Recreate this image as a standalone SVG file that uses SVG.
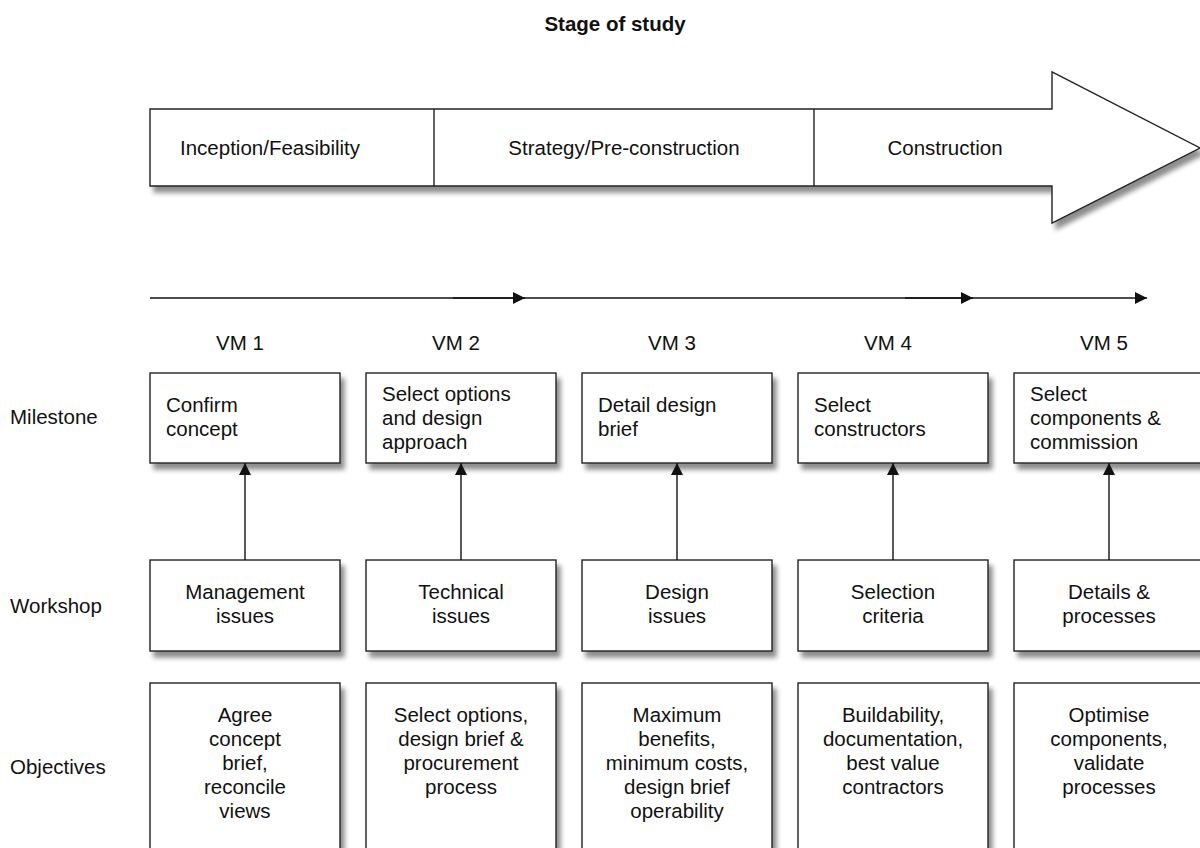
<svg xmlns="http://www.w3.org/2000/svg" width="1200" height="848" viewBox="0 0 1200 848">
  <style>
    text { font-family: "Liberation Sans", Arial, sans-serif; font-size: 20.5px; fill: #111; }
    .title { font-weight: bold; }
    .mid { text-anchor: middle; }
    .box { fill: #fff; stroke: #222; stroke-width: 1.4; }
    .div { stroke: #222; stroke-width: 1.4; }
    .conn { stroke: #111; stroke-width: 1.4; fill: none; }
  </style>
  <defs>
    <filter id="shadow" x="-10%" y="-10%" width="130%" height="140%">
      <feGaussianBlur in="SourceAlpha" stdDeviation="2.5"/>
      <feOffset dx="4" dy="6" result="blur"/>
      <feComponentTransfer><feFuncA type="linear" slope="0.45"/></feComponentTransfer>
      <feMerge><feMergeNode/><feMergeNode in="SourceGraphic"/></feMerge>
    </filter>
    <marker id="head" viewBox="0 0 12 12" refX="12" refY="6" markerWidth="12" markerHeight="12" markerUnits="userSpaceOnUse" orient="auto">
      <path d="M0,0 L12,6 L0,12 Z" fill="#111"/>
    </marker>
  </defs>

  <rect width="1200" height="848" fill="#fff"/>

  <text class="title mid" x="615" y="31">Stage of study</text>

  <!-- stage arrow -->
  <g id="stage-arrow">
    <path class="box" filter="url(#shadow)" d="M150,109 L1052,109 L1052,72 L1200,148 L1052,223 L1052,186 L150,186 Z"/>
    <line class="div" x1="434" y1="109" x2="434" y2="186"/>
    <line class="div" x1="814" y1="109" x2="814" y2="186"/>
    <text x="180" y="155">Inception/Feasibility</text>
    <text class="mid" x="624" y="155">Strategy/Pre-construction</text>
    <text class="mid" x="945" y="155">Construction</text>
  </g>

  <!-- row labels -->
  <g id="row-labels">
    <text x="10" y="424">Milestone</text>
    <text x="10" y="613">Workshop</text>
    <text x="10" y="774">Objectives</text>
  </g>

  <!-- VM labels -->
  <g id="vm-labels">
    <text class="mid" x="240" y="350">VM 1</text>
    <text class="mid" x="456" y="350">VM 2</text>
    <text class="mid" x="672" y="350">VM 3</text>
    <text class="mid" x="888" y="350">VM 4</text>
    <text class="mid" x="1104" y="350">VM 5</text>
  </g>

  <!-- milestones -->
  <g id="milestone-1">
    <rect class="box" filter="url(#shadow)" x="150" y="373" width="190" height="90"/>
    <text x="166" y="412">Confirm</text>
    <text x="166" y="436">concept</text>
  </g>
  <g id="milestone-2">
    <rect class="box" filter="url(#shadow)" x="366" y="373" width="190" height="90"/>
    <text x="382" y="401">Select options</text>
    <text x="382" y="425">and design</text>
    <text x="382" y="449">approach</text>
  </g>
  <g id="milestone-3">
    <rect class="box" filter="url(#shadow)" x="582" y="373" width="190" height="90"/>
    <text x="598" y="412">Detail design</text>
    <text x="598" y="436">brief</text>
  </g>
  <g id="milestone-4">
    <rect class="box" filter="url(#shadow)" x="798" y="373" width="190" height="90"/>
    <text x="814" y="412">Select</text>
    <text x="814" y="436">constructors</text>
  </g>
  <g id="milestone-5">
    <rect class="box" filter="url(#shadow)" x="1014" y="373" width="190" height="90"/>
    <text x="1030" y="401">Select</text>
    <text x="1030" y="425">components &amp;</text>
    <text x="1030" y="449">commission</text>
  </g>

  <!-- workshops -->
  <g id="workshop-1">
    <rect class="box" filter="url(#shadow)" x="150" y="560" width="190" height="91"/>
    <text class="mid" x="245" y="599">Management</text>
    <text class="mid" x="245" y="623">issues</text>
  </g>
  <g id="workshop-2">
    <rect class="box" filter="url(#shadow)" x="366" y="560" width="190" height="91"/>
    <text class="mid" x="461" y="599">Technical</text>
    <text class="mid" x="461" y="623">issues</text>
  </g>
  <g id="workshop-3">
    <rect class="box" filter="url(#shadow)" x="582" y="560" width="190" height="91"/>
    <text class="mid" x="677" y="599">Design</text>
    <text class="mid" x="677" y="623">issues</text>
  </g>
  <g id="workshop-4">
    <rect class="box" filter="url(#shadow)" x="798" y="560" width="190" height="91"/>
    <text class="mid" x="893" y="599">Selection</text>
    <text class="mid" x="893" y="623">criteria</text>
  </g>
  <g id="workshop-5">
    <rect class="box" filter="url(#shadow)" x="1014" y="560" width="190" height="91"/>
    <text class="mid" x="1109" y="599">Details &amp;</text>
    <text class="mid" x="1109" y="623">processes</text>
  </g>

  <!-- objectives -->
  <g id="objectives-1">
    <rect class="box" filter="url(#shadow)" x="150" y="683" width="190" height="190"/>
    <text class="mid" x="245" y="722">Agree</text>
    <text class="mid" x="245" y="746">concept</text>
    <text class="mid" x="245" y="770">brief,</text>
    <text class="mid" x="245" y="794">reconcile</text>
    <text class="mid" x="245" y="818">views</text>
  </g>
  <g id="objectives-2">
    <rect class="box" filter="url(#shadow)" x="366" y="683" width="190" height="190"/>
    <text class="mid" x="461" y="722">Select options,</text>
    <text class="mid" x="461" y="746">design brief &amp;</text>
    <text class="mid" x="461" y="770">procurement</text>
    <text class="mid" x="461" y="794">process</text>
  </g>
  <g id="objectives-3">
    <rect class="box" filter="url(#shadow)" x="582" y="683" width="190" height="190"/>
    <text class="mid" x="677" y="722">Maximum</text>
    <text class="mid" x="677" y="746">benefits,</text>
    <text class="mid" x="677" y="770">minimum costs,</text>
    <text class="mid" x="677" y="794">design brief</text>
    <text class="mid" x="677" y="818">operability</text>
  </g>
  <g id="objectives-4">
    <rect class="box" filter="url(#shadow)" x="798" y="683" width="190" height="190"/>
    <text class="mid" x="893" y="722">Buildability,</text>
    <text class="mid" x="893" y="746">documentation,</text>
    <text class="mid" x="893" y="770">best value</text>
    <text class="mid" x="893" y="794">contractors</text>
  </g>
  <g id="objectives-5">
    <rect class="box" filter="url(#shadow)" x="1014" y="683" width="190" height="190"/>
    <text class="mid" x="1109" y="722">Optimise</text>
    <text class="mid" x="1109" y="746">components,</text>
    <text class="mid" x="1109" y="770">validate</text>
    <text class="mid" x="1109" y="794">processes</text>
  </g>

  <!-- connectors -->
  <g id="connectors">
    <line class="conn" x1="150" y1="298" x2="525" y2="298" marker-end="url(#head)"/>
    <line class="conn" x1="453" y1="298" x2="973" y2="298" marker-end="url(#head)"/>
    <line class="conn" x1="905" y1="298" x2="1147" y2="298" marker-end="url(#head)"/>
    <line class="conn" x1="245" y1="560" x2="245" y2="463" marker-end="url(#head)"/>
    <line class="conn" x1="461" y1="560" x2="461" y2="463" marker-end="url(#head)"/>
    <line class="conn" x1="677" y1="560" x2="677" y2="463" marker-end="url(#head)"/>
    <line class="conn" x1="893" y1="560" x2="893" y2="463" marker-end="url(#head)"/>
    <line class="conn" x1="1109" y1="560" x2="1109" y2="463" marker-end="url(#head)"/>
  </g>
</svg>
